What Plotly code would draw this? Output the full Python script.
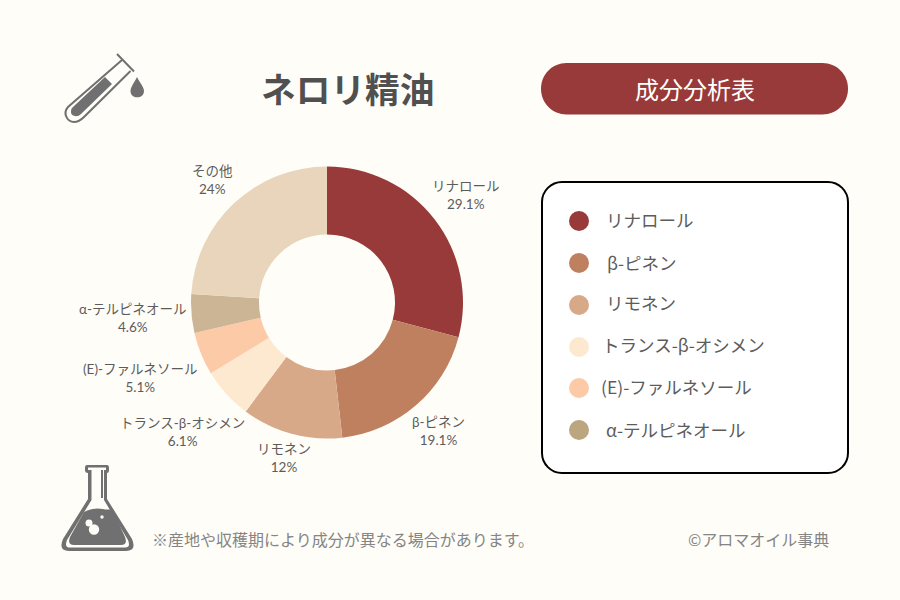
import re
import plotly.graph_objects as go

categories = ["リナロール", "β-ピネン", "リモネン", "トランス-β-オシメン", "(E)-ファルネソール", "α-テルピネオール", "その他"]
values = [29.1, 19.1, 12, 6.1, 5.1, 4.6, 24]
value_labels = ["29.1%", "19.1%", "12%", "6.1%", "5.1%", "4.6%", "24%"]
slice_colors = ["#983a3a", "#bf8060", "#d8a988", "#fde9d0", "#fdcaa8", "#ccb595", "#e8d5bb"]
legend_names = categories[:6]
legend_colors = ["#983a3a", "#bf8060", "#d8a988", "#fde9d0", "#fdcaa8", "#bba680"]
title = "ネロリ精油"
badge = "成分分析表"
note = "※産地や収穫期により成分が異なる場合があります。"
credit = "©アロマオイル事典"

W, H = 900, 600
BG = "#fffdf7"
TXT = "#5c5c5c"
GREY = "#707070"
LABEL_FONT = "Lato, Noto Sans CJK JP"
CJK = "Noto Sans CJK JP"


def px(x, y):
    return x / W, 1 - y / H


def path(d):
    out, pending = [], []
    for tok in re.findall(r"[A-Za-z]|-?[\d.]+", d):
        if tok.isalpha():
            out.append(tok)
        else:
            pending.append(float(tok))
            if len(pending) == 2:
                a, b = px(*pending)
                out.append(f"{a:.5f},{b:.5f}")
                pending = []
    return " ".join(out)


def shp(d, fill=None, line=None, width=0, layer="above"):
    return dict(type="path", xref="paper", yref="paper", path=path(d), layer=layer,
                fillcolor=fill if fill else "rgba(0,0,0,0)",
                line=dict(color=line if line else "rgba(0,0,0,0)", width=width))


def circle(cx, cy, r, fill, layer="above"):
    x0, y0 = px(cx - r, cy - r)
    x1, y1 = px(cx + r, cy + r)
    return dict(type="circle", xref="paper", yref="paper", x0=x0, y0=y0, x1=x1, y1=y1,
                fillcolor=fill, line=dict(width=0), layer=layer)


def rrect(x0, y0, x1, y1, r):
    k = r * 0.45
    return (f"M {x0+r} {y0} L {x1-r} {y0} C {x1-k} {y0} {x1} {y0+k} {x1} {y0+r} L {x1} {y1-r} "
            f"C {x1} {y1-k} {x1-k} {y1} {x1-r} {y1} L {x0+r} {y1} C {x0+k} {y1} {x0} {y1-k} {x0} {y1-r} "
            f"L {x0} {y0+r} C {x0} {y0+k} {x0+k} {y0} {x0+r} {y0} Z")


def text(x, y, s, size, color=TXT, family=CJK, anchor="center", weight=400):
    xp, yp = px(x, y)
    return dict(xref="paper", yref="paper", x=xp, y=yp, text=s, showarrow=False, xanchor=anchor, yanchor="middle",
                font=dict(size=size, color=color, family=family, weight=weight), align="center")


fig = go.Figure(go.Pie(
    labels=categories, values=values, sort=False, direction="clockwise", rotation=0, hole=0.5,
    marker=dict(colors=slice_colors, line=dict(width=0)), textinfo="none", hoverinfo="skip", showlegend=False,
    domain=dict(x=[191 / W, 463 / W], y=[1 - 438.5 / H, 1 - 166.5 / H]),
))

shapes = [
    # badge and legend panel
    shp(rrect(541, 63, 848, 114.5, 25.5), fill="#983a3a", layer="below"),
    shp(rrect(542, 182, 848, 473, 20), fill="#ffffff", line="#000000", width=2, layer="below"),
    # test tube
    shp("M 117 54 L 134 71.5", line=GREY, width=2),
    shp("M 122 60 L 68 107 C 62 114 68 122 74 122 C 78 122 81 120 84 117 L 130.5 71", line=GREY, width=2),
    shp("M 105 77 L 112 84 L 81 114 C 77 118 71 116 71 112 C 71 110 71 109 73 107 Z", fill=GREY),
    shp("M 137 77 C 134 83 130.5 87 130.5 91 C 130.5 99.5 144 99.5 144 91 C 144 87 140 83 137 77 Z", fill=GREY),
    # flask
    shp("M 87 465 L 107 465 Q 109 465 109 468 L 109 470 Q 109 473 107 473 L 107 499 L 132 539 "
        "Q 137 551 126 551 L 69 551 Q 58 551 63 539 L 88 499 L 88 473 Q 85 473 85 470 L 85 468 Q 85 465 87 465 Z",
        fill=GREY),
    shp("M 88 467.5 L 106 467.5 L 106 470 L 88 470 Z", fill=BG),
    shp("M 91.5 470 L 104 470 L 104 500 L 128 540 Q 131 547.5 125 547.5 L 70 547.5 Q 64 547.5 67 540 L 91.5 500 Z", fill=BG),
    shp("M 101 470 L 103 470 L 103 498 L 101 498 Z", fill=GREY),
    shp("M 84 512 Q 93 507 103 509 Q 108 510 112 509 L 125 537 Q 128 545 121 545 L 74 545 Q 67 545 70 537 Z", fill=GREY),
    circle(89, 523, 3.5, BG),
    circle(94, 529.5, 5.2, BG),
    circle(102, 517, 1.7, BG),
]
shapes += [circle(579, y, 10, c) for y, c in zip([221, 263, 305, 347, 388, 430], legend_colors)]

annotations = [
    text(347.5, 88, title, 34.7, weight=700, color="#505050"),
    text(694.5, 88, badge, 24, color="#ffffff", weight=400),
    text(343, 539, note, 16, color="#858585", weight=400),
    text(758, 539, credit, 16, color="#858585", weight=400),
]
label_xy = [(466, 195), (438, 431), (284, 458), (182, 432), (140, 378), (132, 318), (212, 181)]
for (x, y), name, val in zip(label_xy, categories, value_labels):
    annotations.append(text(x, y - 0.5, f"{name}<br>{val}", 13.5, family=LABEL_FONT, weight=400))
legend_xy = [(603.5, 219.5), (604.5, 262.5), (603.5, 302.5), (599.5, 344.5), (598.5, 386.5), (603.5, 429.5)]
for (x, y), name in zip(legend_xy, legend_names):
    annotations.append(text(x, y, name, 17.5, anchor="left", weight=400))

fig.update_layout(width=W, height=H, margin=dict(l=0, r=0, t=0, b=0), paper_bgcolor=BG, plot_bgcolor=BG,
                  showlegend=False, shapes=shapes, annotations=annotations, font=dict(family=CJK))
fig.write_html("out.html", config=dict(displayModeBar=False),
               post_script="document.body.style.margin='0';document.body.style.background='" + BG + "';")
